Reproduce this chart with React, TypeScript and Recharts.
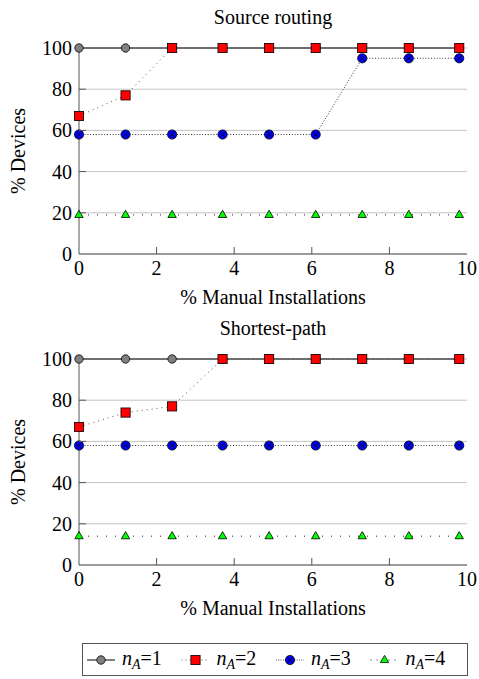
import React from 'react';
import { LineChart, Line, XAxis, YAxis, CartesianGrid, Label } from 'recharts';

const xValues = [0, 1.2, 2.4, 3.7, 4.9, 6.1, 7.3, 8.5, 9.8];

const sourceN1 = [100, 100, 100, 100, 100, 100, 100, 100, 100];
const sourceN2 = [67, 77, 100, 100, 100, 100, 100, 100, 100];
const sourceN3 = [58, 58, 58, 58, 58, 58, 95, 95, 95];
const sourceN4 = [19, 19, 19, 19, 19, 19, 19, 19, 19];

const shortestN1 = [100, 100, 100, 100, 100, 100, 100, 100, 100];
const shortestN2 = [67, 74, 77, 100, 100, 100, 100, 100, 100];
const shortestN3 = [58, 58, 58, 58, 58, 58, 58, 58, 58];
const shortestN4 = [14, 14, 14, 14, 14, 14, 14, 14, 14];

const xTicks = [0, 2, 4, 6, 8, 10];
const yTicks = [0, 20, 40, 60, 80, 100];
const legendValues = ['1', '2', '3', '4'];

const FONT = 'Liberation Serif, Tinos, DejaVu Serif, Noto Serif, serif';
const AXIS = '#555';

const buildRows = (a: number[], b: number[], c: number[], d: number[]) =>
  xValues.map((x, i) => ({ x, n1: a[i], n2: b[i], n3: c[i], n4: d[i] }));

const sourceRows = buildRows(sourceN1, sourceN2, sourceN3, sourceN4);
const shortestRows = buildRows(shortestN1, shortestN2, shortestN3, shortestN4);

const GrayCircle = ({ cx, cy }: any) => (
  <circle cx={cx} cy={cy} r={4.2} fill="#808080" stroke="#000" strokeWidth={0.8} />
);
const RedSquare = ({ cx, cy }: any) => (
  <rect x={cx - 4.6} y={cy - 4.6} width={9.2} height={9.2} fill="#ff0000" stroke="#000" strokeWidth={0.8} />
);
const BlueCross = ({ cx, cy }: any) => (
  <g>
    <circle cx={cx} cy={cy} r={4.6} fill="#0000ff" stroke="#000" strokeWidth={0.8} />
    <line x1={cx - 3.2} y1={cy - 3.2} x2={cx + 3.2} y2={cy + 3.2} stroke="#000" strokeWidth={0.8} />
    <line x1={cx - 3.2} y1={cy + 3.2} x2={cx + 3.2} y2={cy - 3.2} stroke="#000" strokeWidth={0.8} />
  </g>
);
const GreenTri = ({ cx, cy }: any) => (
  <polygon
    points={`${cx},${cy - 4.6} ${cx + 4.2},${cy + 2.6} ${cx - 4.2},${cy + 2.6}`}
    fill="#00ff00"
    stroke="#000"
    strokeWidth={0.8}
  />
);

const textStyle = { fontFamily: FONT, fontSize: 20 };

const BottomTick = ({ x, y, payload }: any) => {
  const v = payload.value;
  return (
    <g>
      {v > 0 && v < 10 && <line x1={x} x2={x} y1={y} y2={y - 7} stroke={AXIS} strokeWidth={1} />}
      <text x={x} y={y + 21} textAnchor="middle" style={textStyle} fill="#000">
        {v}
      </text>
    </g>
  );
};
const TopTick = ({ x, y, payload }: any) => {
  const v = payload.value;
  if (v <= 0 || v >= 10) return <g />;
  return <line x1={x} x2={x} y1={y} y2={y + 7} stroke={AXIS} strokeWidth={1} />;
};
const LeftTick = ({ x, y, payload }: any) => {
  const v = payload.value;
  return (
    <g>
      {v > 0 && v < 100 && <line x1={x} x2={x + 7} y1={y} y2={y} stroke={AXIS} strokeWidth={1} />}
      <text x={x - 7} y={y + 7} textAnchor="end" style={textStyle} fill="#000">
        {v}
      </text>
    </g>
  );
};
const RightTick = ({ x, y, payload }: any) => {
  const v = payload.value;
  if (v <= 0 || v >= 100) return <g />;
  return <line x1={x} x2={x - 7} y1={y} y2={y} stroke={AXIS} strokeWidth={1} />;
};

const YLabel = ({ viewBox }: any) => {
  const { x, y, height } = viewBox;
  return (
    <text
      transform={`translate(${x + 25},${y + height / 2}) rotate(-90)`}
      textAnchor="middle"
      style={textStyle}
      fill="#000"
    >
      % Devices
    </text>
  );
};

const XLabel = ({ viewBox }: any) => {
  const { x, y, width, height } = viewBox;
  return (
    <text x={x + width / 2} y={y + height - 7} textAnchor="middle" style={textStyle} fill="#000">
      % Manual Installations
    </text>
  );
};

const Panel = ({ title, rows, top }: { title: string; rows: any[]; top: number }) => (
  <div style={{ position: 'absolute', left: 0, top, width: 479, height: 311 }}>
    <div
      style={{
        position: 'absolute',
        left: 79,
        width: 388,
        top: 6.5,
        textAlign: 'center',
        fontFamily: FONT,
        fontSize: 20,
        lineHeight: '20px',
        color: '#000',
      }}
    >
      {title}
    </div>
    <LineChart width={479} height={311} data={rows} margin={{ top: 48, right: 12, left: 0, bottom: 0 }}>
      <CartesianGrid horizontal vertical={false} stroke="#c4c4c4" strokeWidth={1} />
      <XAxis
        dataKey="x"
        type="number"
        domain={[0, 10]}
        ticks={xTicks}
        height={57}
        tickSize={0}
        tickMargin={0}
        tick={<BottomTick />}
        axisLine={{ stroke: AXIS, strokeWidth: 1 }}
        interval={0}
      >
        <Label content={<XLabel />} />
      </XAxis>
      <XAxis
        xAxisId="top"
        orientation="top"
        dataKey="x"
        type="number"
        domain={[0, 10]}
        ticks={xTicks}
        height={0}
        tickSize={0}
        tickMargin={0}
        tick={<TopTick />}
        axisLine={{ stroke: AXIS, strokeWidth: 1 }}
        interval={0}
      />
      <YAxis
        type="number"
        domain={[0, 100]}
        ticks={yTicks}
        width={79}
        tickSize={0}
        tickMargin={0}
        tick={<LeftTick />}
        axisLine={{ stroke: AXIS, strokeWidth: 1 }}
        interval={0}
      >
        <Label content={<YLabel />} />
      </YAxis>
      <YAxis
        yAxisId="right"
        orientation="right"
        type="number"
        domain={[0, 100]}
        ticks={yTicks}
        width={0}
        tickSize={0}
        tickMargin={0}
        tick={<RightTick />}
        axisLine={{ stroke: AXIS, strokeWidth: 1 }}
        interval={0}
      />
      <Line
        dataKey="n1"
        stroke="#000"
        strokeWidth={1.2}
        isAnimationActive={false}
        dot={(p: any) => <GrayCircle key={`a${p.index}`} cx={p.cx} cy={p.cy} />}
        activeDot={false}
      />
      <Line
        dataKey="n2"
        stroke="#555"
        strokeWidth={1}
        strokeDasharray="1 4"
        isAnimationActive={false}
        dot={(p: any) => <RedSquare key={`b${p.index}`} cx={p.cx} cy={p.cy} />}
        activeDot={false}
      />
      <Line
        dataKey="n3"
        stroke="#333"
        strokeWidth={1}
        strokeDasharray="1 1.8"
        isAnimationActive={false}
        dot={(p: any) => <BlueCross key={`c${p.index}`} cx={p.cx} cy={p.cy} />}
        activeDot={false}
      />
      <Line
        dataKey="n4"
        stroke="#222"
        strokeWidth={1}
        strokeDasharray="1 8"
        isAnimationActive={false}
        dot={(p: any) => <GreenTri key={`d${p.index}`} cx={p.cx} cy={p.cy} />}
        activeDot={false}
      />
    </LineChart>
  </div>
);

const legendStyles = [
  { dash: undefined, stroke: '#000', Marker: GrayCircle },
  { dash: '1 3', stroke: '#555', Marker: RedSquare },
  { dash: '1 1.3', stroke: '#555', Marker: BlueCross },
  { dash: '1 5', stroke: '#333', Marker: GreenTri },
];

const Legend = () => (
  <div
    style={{
      position: 'absolute',
      left: 82,
      top: 643,
      width: 386,
      height: 33,
      border: `1px solid ${AXIS}`,
      boxSizing: 'border-box',
      background: '#fff',
    }}
  >
    <svg width={384} height={31} style={{ display: 'block' }}>
      {legendValues.map((v, i) => {
        const cx = 18 + 94.5 * i;
        const cy = 16;
        const s = legendStyles[i];
        const M = s.Marker;
        return (
          <g key={v}>
            <line x1={cx - 14} x2={cx + 14} y1={cy} y2={cy} stroke={s.stroke} strokeWidth={1} strokeDasharray={s.dash} />
            <M cx={cx} cy={cy} />
            <text x={cx + 21} y={21} style={textStyle} fill="#000">
              <tspan fontStyle="italic">n</tspan>
              <tspan fontStyle="italic" style={{ fontSize: 14 }} dy={4}>A</tspan>
              <tspan dy={-4}>={v}</tspan>
            </text>
          </g>
        );
      })}
    </svg>
  </div>
);

export default function App() {
  return (
    <div style={{ position: 'absolute', left: 0, top: 0, width: 479, height: 679, background: '#fff' }}>
      <Panel title="Source routing" rows={sourceRows} top={0} />
      <Panel title="Shortest-path" rows={shortestRows} top={311} />
      <Legend />
    </div>
  );
}
